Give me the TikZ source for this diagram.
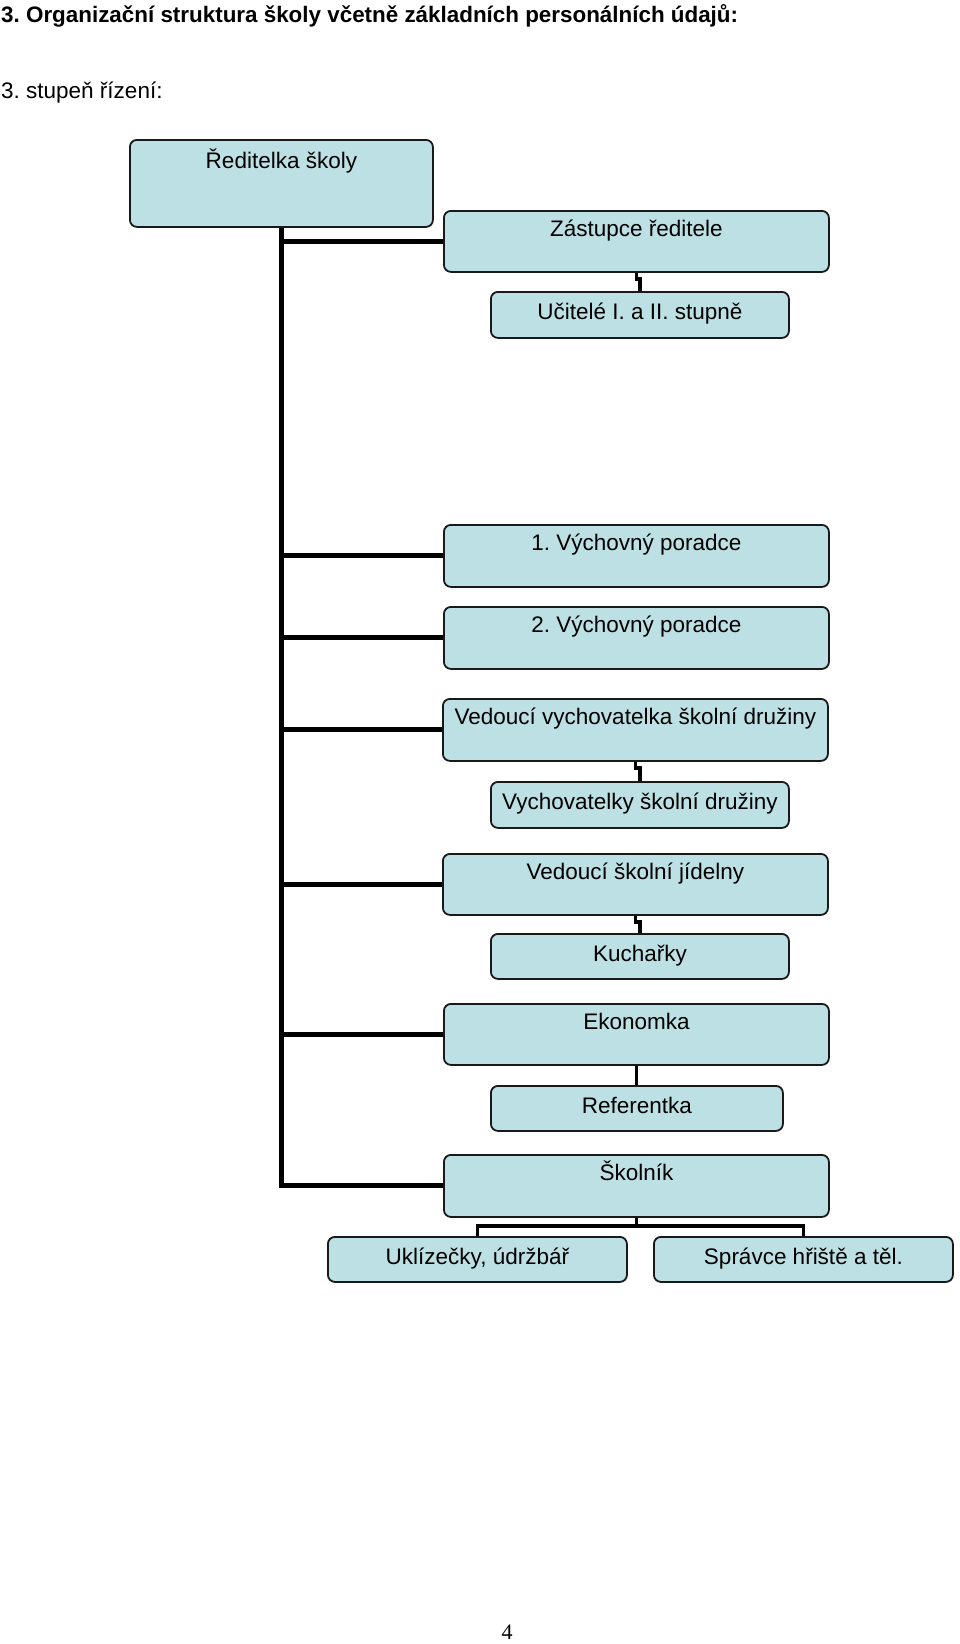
\documentclass[tikz,border=0pt]{standalone}
\usepackage{fontspec}
\setmainfont{Liberation Sans}
\newfontfamily\pagefont{Liberation Serif}
\usetikzlibrary{backgrounds}
\definecolor{boxfill}{RGB}{188,224,228}
\definecolor{boxline}{RGB}{25,25,25}
\frenchspacing
\tikzset{
  every node/.style={font=\fontsize{22.5pt}{26pt}\selectfont, inner sep=0pt},
  box/.style={draw=boxline, line width=1.8pt, rounded corners=7pt, fill=boxfill, anchor=north west},
  bigtxt/.style={anchor=base, yshift=-26pt},
  smalltxt/.style={anchor=base, yshift=-28pt},
  toptxt/.style={anchor=base, yshift=-29pt},
  trunk/.style={draw=black, line width=5pt, line join=miter},
  sub/.style={draw=black, line width=3.8pt},
}
\begin{document}
\begin{tikzpicture}[x=1pt, y=-1pt]
\useasboundingbox (0,0) rectangle (960,1644);
\node[anchor=base west, font=\fontsize{22.4pt}{26pt}\selectfont\bfseries] (title) at (1,22) {3. Organizační struktura školy včetně základních personálních údajů:};
\node[anchor=base west] (level) at (1,98) {3. stupeň řízení:};

\node[box, minimum width=303pt, minimum height=87pt, label={[toptxt]north:Ředitelka školy}] (red) at (129,139) {};
\node[box, minimum width=385pt, minimum height=61pt, label={[bigtxt]north:Zástupce ředitele}] (zast) at (443,210) {};
\node[box, minimum width=298pt, minimum height=46pt, label={[smalltxt]north:Učitelé I. a II. stupně}] (uc) at (490,291) {};
\node[box, minimum width=385pt, minimum height=62pt, label={[bigtxt]north:1. Výchovný poradce}] (vp1) at (443,524) {};
\node[box, minimum width=385pt, minimum height=62pt, label={[bigtxt]north:2. Výchovný poradce}] (vp2) at (443,606) {};
\node[box, minimum width=385pt, minimum height=62pt, label={[bigtxt]north:Vedoucí vychovatelka školní družiny}] (vv) at (442,698) {};
\node[box, minimum width=298pt, minimum height=46pt, label={[smalltxt]north:Vychovatelky školní družiny}] (vych) at (490,781) {};
\node[box, minimum width=385pt, minimum height=61pt, label={[bigtxt]north:Vedoucí školní jídelny}] (vj) at (442,853) {};
\node[box, minimum width=298pt, minimum height=45pt, label={[smalltxt]north:Kuchařky}] (kuch) at (490,933) {};
\node[box, minimum width=385pt, minimum height=61pt, label={[bigtxt]north:Ekonomka}] (eko) at (443,1003) {};
\node[box, minimum width=292pt, minimum height=45pt, label={[smalltxt]north:Referentka}] (ref) at (490,1085) {};
\node[box, minimum width=385pt, minimum height=62pt, label={[bigtxt]north:Školník}] (skol) at (443,1154) {};
\node[box, minimum width=299pt, minimum height=45pt, label={[smalltxt]north:Uklízečky, údržbář}] (ukl) at (327,1236) {};
\node[box, minimum width=299pt, minimum height=45pt, label={[smalltxt]north:Správce hřiště a těl.}] (spr) at (653,1236) {};

\node[anchor=base, font=\fontsize{22pt}{26pt}\pagefont] (page) at (507,1639) {4};

\begin{scope}[on background layer]
\draw[trunk] (red.south) |- (skol.west);
\draw[trunk] (red.south) |- (zast.west);
\draw[trunk] (red.south) |- (vp1.west);
\draw[trunk] (red.south) |- (vp2.west);
\draw[trunk] (red.south) |- (vv.west);
\draw[trunk] (red.south) |- (vj.west);
\draw[trunk] (red.south) |- (eko.west);
\draw[sub] (zast.south) -- ++(0,6) -| (uc.north);
\draw[sub] (vv.south) -- ++(0,6) -| (vych.north);
\draw[sub] (vj.south) -- ++(0,6) -| (kuch.north);
\draw[sub] (eko.south) -- (eko.south |- ref.north);
\draw[sub] (skol.south) -- ++(0,8) -| (ukl.north);
\draw[sub] (skol.south) -- ++(0,8) -| (spr.north);
\end{scope}
\end{tikzpicture}
\end{document}
